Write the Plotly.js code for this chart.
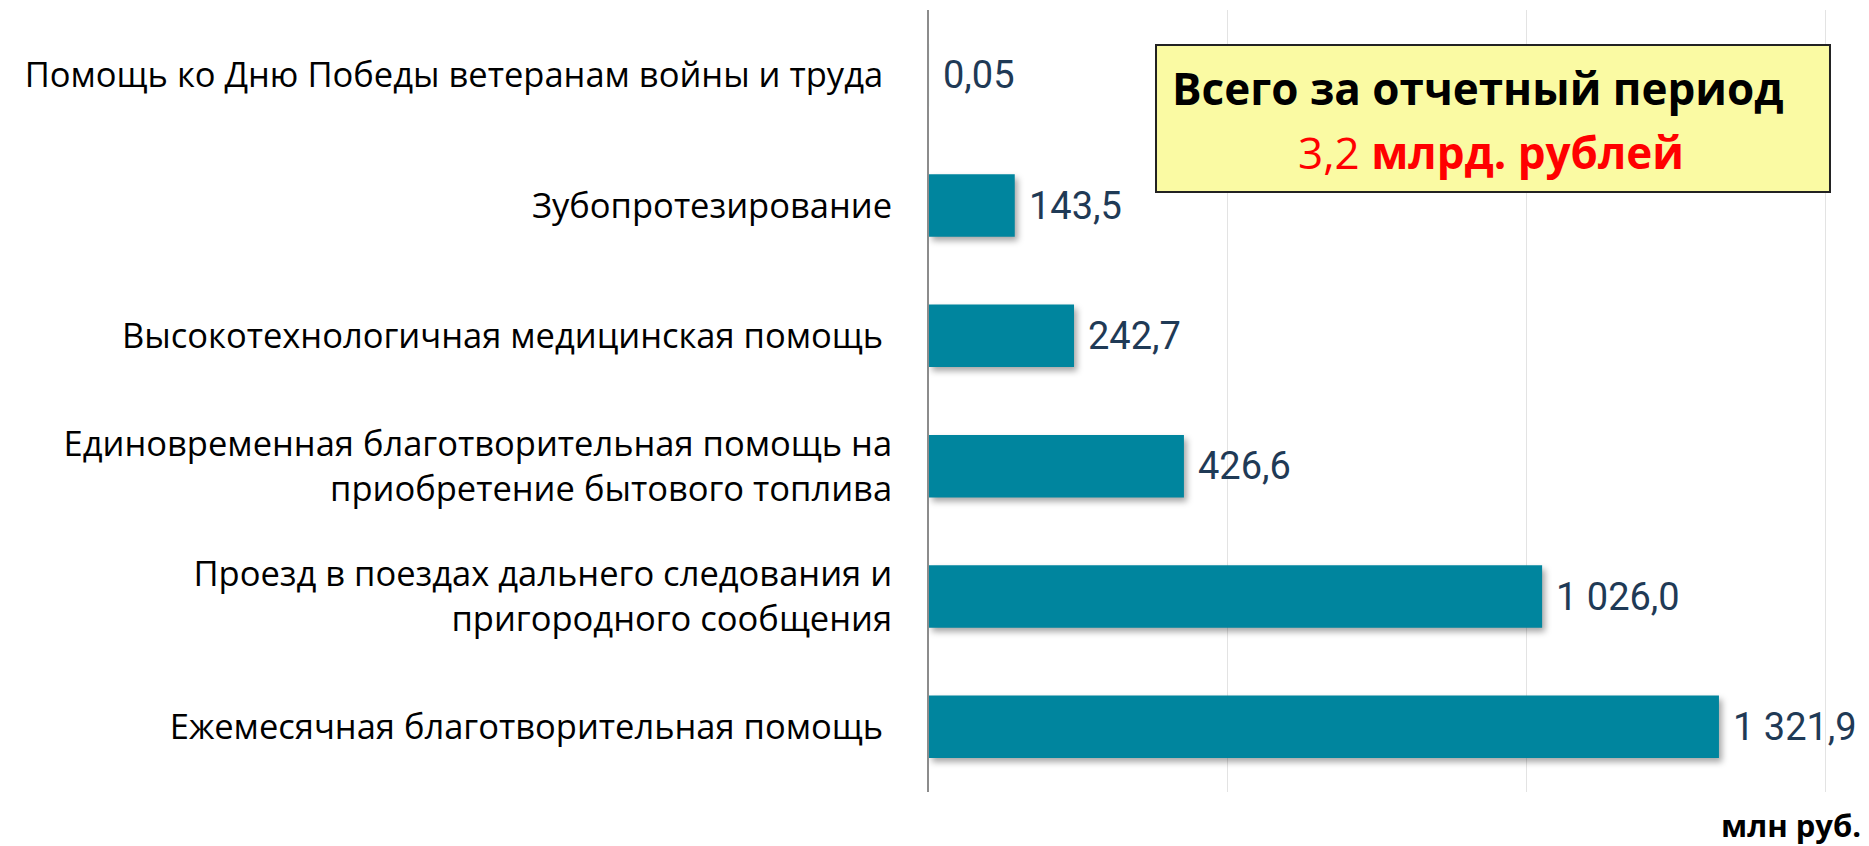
<!DOCTYPE html>
<html>
<head>
<meta charset="utf-8">
<script src="https://cdn.plot.ly/plotly-3.0.1.min.js"></script>
<style>
html,body{margin:0;padding:0;background:#fff;}
#chart .trace.bars .point path { filter: drop-shadow(3px 4px 3px rgba(0,0,0,0.35)); }
</style>
</head>
<body>
<div id="chart" style="width:1869px;height:846px;"></div>
<script>
// Categories, top to bottom
const categories = [
  "Помощь ко Дню Победы ветеранам войны и труда\u00a0",
  "Зубопротезирование",
  "Высокотехнологичная медицинская помощь\u00a0",
  "Единовременная благотворительная помощь на<br>приобретение бытового топлива",
  "Проезд в поездах дальнего следования и<br>пригородного сообщения",
  "Ежемесячная благотворительная помощь\u00a0"
];
// Values, млн руб.
const values = [0.05, 143.5, 242.7, 426.6, 1026.0, 1321.9];
const unitLabel = "млн руб.";
const boxLine1 = "Всего за отчетный период";
const boxTotal = "3,2";
const boxTotalUnit = "млрд. рублей";

function fmt(v) {
  const dec = v < 1 ? 2 : 1;
  const parts = v.toFixed(dec).split(".");
  const intPart = parts[0].replace(/\B(?=(\d{3})+(?!\d))/g, " ");
  return intPart + "," + parts[1];
}

const barTrace = {
  type: "bar",
  orientation: "h",
  x: values,
  y: categories,
  marker: { color: "#00859e" },
  hoverinfo: "x+y",
  showlegend: false
};

const valueAnnotations = values.map((v, i) => ({
  x: v, y: categories[i], xref: "x", yref: "y",
  text: fmt(v), showarrow: false, xanchor: "left", yanchor: "middle",
  xshift: 12,
  font: { family: "Roboto, sans-serif", size: 38, color: "#1f3a56" }
}));

const layout = {
  width: 1869,
  height: 846,
  margin: { l: 929, r: 0, t: 10, b: 54 },
  paper_bgcolor: "#ffffff",
  plot_bgcolor: "#ffffff",
  font: { family: "Open Sans, sans-serif", color: "#000000" },
  bargap: 0.52,
  xaxis: {
    range: [0, 1573],
    dtick: 500,
    tick0: 0,
    showgrid: true,
    gridcolor: "#e3e3e3",
    gridwidth: 1,
    zeroline: false,
    showticklabels: false,
    showline: false,
    fixedrange: true
  },
  yaxis: {
    autorange: "reversed",
    showline: true,
    linecolor: "#8c8c8c",
    linewidth: 2,
    ticks: "",
    ticklabelstandoff: 28,
    automargin: false,
    tickfont: { family: "Open Sans, sans-serif", size: 34.5, color: "#000000" },
    fixedrange: true
  },
  shapes: [{
    type: "rect", xref: "paper", yref: "paper",
    x0: 0.2415, x1: 0.9585, y0: 0.7673, y1: 0.9552,
    fillcolor: "#fafaa3",
    line: { color: "#222222", width: 2 },
    layer: "above"
  }],
  annotations: valueAnnotations.concat([
    {
      xref: "paper", yref: "paper", x: 0.583, y: 0.900,
      xanchor: "center", yanchor: "middle", showarrow: false,
      text: "<b>" + boxLine1 + "</b>",
      font: { family: "Open Sans, sans-serif", size: 44, color: "#000000" }
    },
    {
      xref: "paper", yref: "paper", x: 0.598, y: 0.818,
      xanchor: "center", yanchor: "middle", showarrow: false,
      text: boxTotal + " <b>" + boxTotalUnit + "</b>",
      font: { family: "Open Sans, sans-serif", size: 44, color: "#ff0000" }
    },
    {
      xref: "paper", yref: "paper", x: 0.9936, y: -0.042,
      xanchor: "right", yanchor: "middle", showarrow: false,
      text: "<b>" + unitLabel + "</b>",
      font: { family: "Open Sans, sans-serif", size: 31, color: "#000000" }
    }
  ])
};

Plotly.newPlot("chart", [barTrace], layout, { displayModeBar: false, staticPlot: true });
</script>
</body>
</html>
